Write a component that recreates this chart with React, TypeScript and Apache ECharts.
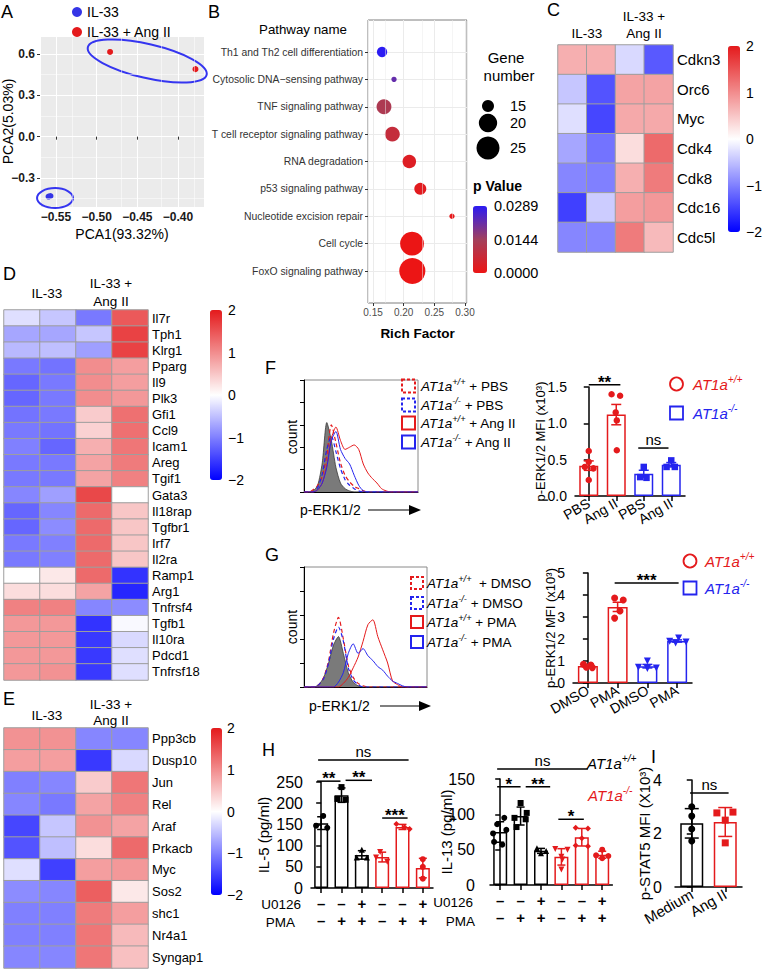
import React, { useEffect, useRef } from "react";
import * as echarts from "echarts";

const FONT = "'Liberation Sans', Arial, Helvetica, sans-serif";
const RED = "#E41A1C";
const BLUE = "#2424EE";
const HEAT_COLORS = ["#0000FF", "#FFFFFF", "#E41A1C"];

// ---------- A : PCA ----------
const pcaGroups = ["IL-33", "IL-33 + Ang II"];
const pcaIL33 = [[-0.5592, -0.4345], [-0.5568, -0.4305]];
const pcaIL33AngII = [[-0.4835, 0.615], [-0.3785, 0.49]];
const pcaEllipseCentres = [[-0.4378, 0.549], [-0.5512, -0.446]];
const pcaXExtent = [-0.5697, -0.368];
const pcaYExtent = [-0.5105, 0.7306];
const pcaMinorX = [-0.525, -0.475, -0.425, -0.375];
const pcaMinorY = [-0.45, -0.15, 0.15, 0.45];

// ---------- B : KEGG enrichment ----------
const pathways = [
  "Th1 and Th2 cell differentiation",
  "Cytosolic DNA\u2212sensing pathway",
  "TNF signaling pathway",
  "T cell receptor signaling pathway",
  "RNA degradation",
  "p53 signaling pathway",
  "Nucleotide excision repair",
  "Cell cycle",
  "FoxO signaling pathway",
];
const richFactor = [0.1647, 0.1842, 0.1679, 0.1815, 0.2092, 0.2271, 0.2788, 0.2136, 0.2141];
const geneNumber = [14, 12, 17, 17, 16, 15, 12, 26, 29];
const pValue = [0.0289, 0.022, 0.0125, 0.008, 0.003, 0.002, 0.001, 0.0001, 0.00005];
const richExtent = [0.1418, 0.3033];
const richMinor = [0.175, 0.225, 0.275];
const geneLegendValues = [15, 20, 25];
const pValueMax = 0.0289;
const pValueTicks = [0.0289, 0.0144, 0];

// ---------- C, D, E : heatmaps ----------
const sampleColumns = ["IL-33 a", "IL-33 b", "IL-33 + Ang II a", "IL-33 + Ang II b"];
const heatTicks = [2, 1, 0, -1, -2];
const cGenes = ["Cdkn3", "Orc6", "Myc", "Cdk4", "Cdk8", "Cdc16", "Cdc5l"];
const cZ = [
  [0.7, 0.7, -0.3, -1.3],
  [-0.45, -1.35, 0.8, 0.8],
  [-0.25, -1.45, 0.75, 0.75],
  [-0.7, -1.1, 0.3, 1.3],
  [-0.95, -1.0, 0.7, 1.15],
  [-1.5, -0.4, 0.85, 0.9],
  [-0.95, -0.95, 1.15, 0.6],
];
const dGenes = ["Il7r", "Tph1", "Klrg1", "Pparg", "Il9", "Plk3", "Gfi1", "Ccl9", "Icam1", "Areg", "Tgif1", "Gata3", "Il18rap", "Tgfbr1", "Irf7", "Il2ra", "Ramp1", "Arg1", "Tnfrsf4", "Tgfb1", "Il10ra", "Pdcd1", "Tnfrsf18"];
const dZ = [
  [-0.25, -0.45, -1.05, 1.45],
  [-0.7, -0.7, -0.45, 1.65],
  [-0.55, -0.5, -0.75, 1.65],
  [-1.05, -1.1, 1.0, 0.85],
  [-1.2, -1.05, 1.0, 0.85],
  [-1.2, -1.05, 1.0, 0.9],
  [-1.1, -1.05, 0.45, 1.25],
  [-1.05, -1.1, 0.4, 1.25],
  [-1.0, -1.2, 0.7, 1.2],
  [-1.05, -1.05, 0.8, 1.15],
  [-1.05, -1.05, 0.8, 1.1],
  [-0.95, -0.75, 1.6, 0.0],
  [-1.2, -0.95, 1.3, 0.5],
  [-1.2, -0.9, 1.3, 0.5],
  [-1.05, -1.0, 1.3, 0.5],
  [-1.05, -1.0, 1.3, 0.5],
  [0.0, 0.2, 1.3, -1.6],
  [0.3, 0.3, 0.8, -1.7],
  [1.1, 1.1, -0.95, -0.9],
  [0.9, 0.9, -1.6, -0.05],
  [0.9, 0.9, -1.55, -0.3],
  [0.9, 0.9, -1.55, -0.25],
  [0.9, 0.95, -1.55, -0.25],
];
const eGenes = ["Ppp3cb", "Dusp10", "Jun", "Rel", "Araf", "Prkacb", "Myc", "Sos2", "shc1", "Nr4a1", "Syngap1"];
const eZ = [
  [0.95, 0.95, -0.95, -0.95],
  [0.85, 0.85, -1.55, -0.3],
  [-1.0, -0.95, 0.45, 1.2],
  [-0.95, -1.05, 0.8, 1.1],
  [-1.45, -0.45, 0.95, 0.8],
  [-1.35, -0.5, 0.3, 1.3],
  [-0.25, -1.5, 0.85, 0.9],
  [-0.9, -0.95, 1.4, 0.2],
  [-1.0, -1.0, 1.15, 0.85],
  [-1.0, -1.0, 1.2, 0.6],
  [-0.95, -0.95, 1.2, 0.55],
];

// ---------- F, G : flow histograms ----------
const histChannel = [0, 4, 8, 12, 16, 20, 24, 28, 32, 36, 40, 44, 48, 52, 56, 60, 64, 68, 72, 76, 80, 84, 88, 92, 96, 100];
const fHistIsotype = [0, 0, 1, 6, 26, 62, 46, 22, 8, 3, 1, 0, 0, 0, 0, 0, 0, 0, 0, 0, 0, 0, 0, 0, 0, 0];
const fHistWtPbs = [0, 0, 2, 6, 14, 33, 60, 44, 26, 15, 9, 5, 3, 1, 0, 0, 0, 0, 0, 0, 0, 0, 0, 0, 0, 0];
const fHistKoPbs = [0, 0, 0, 4, 16, 38, 50, 36, 21, 11, 6, 3, 1, 0, 0, 0, 0, 0, 0, 0, 0, 0, 0, 0, 0, 0];
const fHistWtAng = [0, 0, 0, 2, 8, 24, 48, 58, 46, 38, 40, 42, 38, 25, 17, 12, 8, 3, 1, 0, 0, 0, 0, 0, 0, 0];
const fHistKoAng = [0, 0, 0, 2, 8, 22, 46, 54, 38, 30, 25, 15, 6, 1, 0, 0, 0, 0, 0, 0, 0, 0, 0, 0, 0, 0];
const gHistIsotype = [0, 0, 0, 2, 8, 20, 35, 42, 28, 12, 4, 1, 0, 0, 0, 0, 0, 0, 0, 0, 0, 0, 0, 0, 0, 0];
const gHistWtDmso = [0, 0, 0, 2, 8, 22, 45, 58, 40, 18, 8, 3, 1, 0, 0, 0, 0, 0, 0, 0, 0, 0, 0, 0, 0, 0];
const gHistKoDmso = [0, 0, 0, 2, 7, 20, 40, 50, 38, 16, 6, 2, 0, 0, 0, 0, 0, 0, 0, 0, 0, 0, 0, 0, 0, 0];
const gHistWtPma = [0, 0, 0, 0, 0, 0, 0, 0, 3, 8, 16, 25, 38, 52, 56, 42, 31, 20, 5, 2, 0, 0, 0, 0, 0, 0];
const gHistKoPma = [0, 0, 0, 0, 0, 0, 0, 4, 12, 28, 36, 28, 32, 26, 22, 17, 14, 9, 5, 3, 1, 0, 0, 0, 0, 0];

// ---------- F, G : bar charts (mean, SEM, individual mice) ----------
const fCats = ["PBS", "Ang II", "PBS", "Ang II"];
const fMeans = [0.418, 1.12, 0.307, 0.43];
const fSem = [0.065, 0.14, 0.047, 0.03];
const fDots = [
  [[0, 0.62], [0, 0.47], [-0.14, 0.4], [0.17, 0.38], [0, 0.22]],
  [[-0.17, 1.4], [0.14, 1.38], [-0.02, 1.15], [0.02, 1.04], [0.02, 0.63]],
  [[0, 0.4], [-0.13, 0.26], [0.1, 0.25]],
  [[0, 0.49], [-0.17, 0.4], [0.13, 0.4]],
];
const fBrackets = [[0, 1.15, 1.53], [1.8, 2.9, 0.66]];
const fBracketLabels = ["**", "ns"];

const gCats = ["DMSO", "PMA", "DMSO", "PMA"];
const gMeans = [0.77, 3.46, 0.765, 1.91];
const gSem = [0.035, 0.21, 0.08, 0.05];
const gDots = [
  [[-0.15, 0.85], [0.1, 0.82], [-0.05, 0.72], [0.15, 0.7]],
  [[-0.1, 3.86], [0.19, 3.77], [0.08, 3.27], [-0.1, 2.95]],
  [[0, 1.0], [-0.3, 0.72], [0, 0.66], [0.3, 0.68]],
  [[-0.25, 1.9], [0.05, 2.05], [0.3, 1.86], [-0.05, 1.82]],
];
const gBrackets = [[0.9, 3.05, 4.55]];
const gBracketLabels = ["***"];

// ---------- H : cytokines ----------
const hU0126 = ["\u2013", "\u2013", "+", "\u2013", "\u2013", "+"];
const hPMA = ["\u2013", "+", "+", "\u2013", "+", "+"];
const hIl5Means = [153, 219, 78, 73, 144, 47];
const hIl5Sd = [15, 17, 10, 11.5, 6, 23];
const hIl5Dots = [
  [[0.1, 170], [-0.25, 147], [0.3, 142]],
  [[0, 238], [-0.2, 210], [0.2, 208]],
  [[0, 90], [-0.25, 72], [0.25, 72]],
  [[-0.1, 85], [-0.3, 72], [0.25, 62]],
  [[-0.3, 151], [0.1, 143], [0.35, 139]],
  [[0, 68], [0, 50], [0, 22]],
];
const hIl5Brackets = [[-0.15, 4.3, 302], [-0.2, 0.95, 252], [1.2, 2.5, 254], [3.0, 4.25, 165]];
const hIl5BracketLabels = ["ns", "**", "**", "***"];
const hIl13Means = [75, 97.6, 48.3, 39.8, 67.6, 42.8];
const hIl13Sd = [14.5, 12.7, 3.5, 11.6, 12.4, 5];
const hIl13Dots = [
  [[0.2, 95], [-0.15, 86], [0.3, 78], [-0.35, 73], [-0.3, 61], [0.1, 57]],
  [[0, 116], [0.3, 102], [-0.3, 95], [0.25, 93], [-0.2, 82]],
  [[-0.2, 52], [0.25, 48], [0, 45]],
  [[-0.3, 51], [0.3, 50], [0, 40], [0.05, 36], [0, 22]],
  [[-0.3, 81], [0.3, 80], [0, 66], [-0.3, 56], [0.3, 55]],
  [[0, 50], [-0.3, 42], [0.3, 41], [0, 38]],
];
const hIl13Brackets = [[-0.15, 4.3, 164], [-0.15, 1.0, 139], [1.25, 2.45, 139], [2.85, 4.1, 93]];
const hIl13BracketLabels = ["ns", "*", "**", "*"];

// ---------- I : p-STAT5 ----------
const iCats = ["Medium", "Ang II"];
const iMeans = [2.38, 2.43];
const iSd = [0.55, 0.54];
const iDots = [
  [[0, 3.0], [0, 2.65], [0, 2.17], [0, 1.72]],
  [[-0.25, 2.77], [0.23, 2.8], [0, 2.5], [0, 1.65]],
];
const iBrackets = [[-0.05, 1.1, 3.51]];
const iBracketLabels = ["ns"];

function errRender(colors: string[], cap: number) {
  return (params: any, api: any) => {
    const i = params.dataIndex;
    const x = api.value(0);
    const lo = api.coord([x, api.value(1)]);
    const hi = api.coord([x, api.value(2)]);
    const st = { stroke: colors[i], lineWidth: 1.5 };
    return {
      type: "group",
      children: [
        { type: "line", shape: { x1: lo[0], y1: lo[1], x2: hi[0], y2: hi[1] }, style: st },
        { type: "line", shape: { x1: hi[0] - cap, y1: hi[1], x2: hi[0] + cap, y2: hi[1] }, style: st },
        { type: "line", shape: { x1: lo[0] - cap, y1: lo[1], x2: lo[0] + cap, y2: lo[1] }, style: st },
      ],
    };
  };
}

function bracketRender(labels: string[]) {
  return (params: any, api: any) => {
    const a = api.coord([api.value(0), api.value(2)]);
    const b = api.coord([api.value(1), api.value(2)]);
    const lab = labels[params.dataIndex];
    const star = lab.indexOf("*") >= 0;
    return {
      type: "group",
      children: [
        { type: "line", shape: { x1: a[0], y1: a[1], x2: b[0], y2: a[1] }, style: { stroke: "#000", lineWidth: 1.5 } },
        {
          type: "text",
          x: (a[0] + b[0]) / 2,
          y: a[1] + (star ? 6 : -1),
          style: {
            text: lab, fontFamily: FONT, fontSize: star ? 17 : 15, fontWeight: star ? "bold" : "normal",
            fill: "#000", align: "center", verticalAlign: "bottom", textAlign: "center", textVerticalAlign: "bottom",
          },
        },
      ],
    };
  };
}

function buildOption(): any {
  const grid: any[] = [];
  const xAxis: any[] = [];
  const yAxis: any[] = [];
  const series: any[] = [];
  const visualMap: any[] = [];
  const els: any[] = [];

  const addGrid = (g: any) => grid.push({ outerBoundsMode: "none", ...g }) - 1;
  const addX = (a: any) => xAxis.push(a) - 1;
  const addY = (a: any) => yAxis.push(a) - 1;
  const addS = (s: any) => series.push(s) - 1;

  const text = (x: number, y: number, t: string, o: any = {}) => {
    const { rotation = 0, align = "left", vAlign = "middle", ...rest } = o;
    els.push({
      type: "text", x, y, rotation, z: 100, silent: true,
      style: {
        text: t, fontFamily: FONT, fontSize: 14, fill: "#000",
        align, verticalAlign: vAlign, textAlign: align, textVerticalAlign: vAlign, ...rest,
      },
    });
  };
  const geno = (x: number, y: number, sup: string, rest: string, color: string, restColor: string, size: number) => {
    els.push({
      type: "text", x, y, z: 100, silent: true,
      style: {
        text: `{i|AT1a}{s|${sup}}{n|${rest}}`,
        fontFamily: FONT, fontSize: size, fill: color,
        align: "left", verticalAlign: "middle", textAlign: "left", textVerticalAlign: "middle",
        rich: {
          i: { fontFamily: FONT, fontSize: size, fontStyle: "italic", fill: color, color, lineHeight: size * 1.3, verticalAlign: "middle" },
          s: { fontFamily: FONT, fontSize: size * 0.68, fontStyle: "italic", fill: color, color, lineHeight: size * 0.75, verticalAlign: "top" },
          n: { fontFamily: FONT, fontSize: size, fill: restColor, color: restColor, lineHeight: size * 1.3, verticalAlign: "middle" },
        },
      },
    });
  };
  const letter = (x: number, y: number, ch: string) => text(x, y, ch, { fontSize: 18 });
  const minus = (v: string) => v.replace("-", "\u2212");

  // ================= A =================
  const gA = addGrid({ left: 40, top: 36, width: 164, height: 171, show: true, backgroundColor: "#EBEBEB", borderWidth: 0 });
  const axA = { fontFamily: FONT, fontSize: 12, fontWeight: "bold", color: "#1A1A1A" };
  const nameA = { fontFamily: FONT, fontSize: 14, color: "#000" };
  const xA = addX({
    type: "value", gridIndex: gA, min: pcaXExtent[0], max: pcaXExtent[1], splitNumber: 4,
    axisLine: { show: false }, axisTick: { show: true, length: 3, lineStyle: { color: "#333" } },
    axisLabel: { ...axA, margin: 4, showMinLabel: false, showMaxLabel: false, formatter: (v: number) => minus(v.toFixed(2)) },
    splitLine: { show: true, lineStyle: { color: "#FFFFFF", width: 1.1 } },
    name: "PCA1(93.32%)", nameLocation: "middle", nameGap: 20, nameTextStyle: nameA, nameMoveOverlap: false,
  });
  const yA = addY({
    type: "value", gridIndex: gA, min: pcaYExtent[0], max: pcaYExtent[1], splitNumber: 4,
    axisLine: { show: false }, axisTick: { show: true, length: 3, lineStyle: { color: "#333" } },
    axisLabel: { ...axA, margin: 5, showMinLabel: false, showMaxLabel: false, formatter: (v: number) => minus(v.toFixed(1)) },
    splitLine: { show: true, lineStyle: { color: "#FFFFFF", width: 1.1 } },
    name: "PCA2(5.03%)", nameLocation: "middle", nameGap: 25, nameTextStyle: nameA, nameMoveOverlap: false,
  });
  addS({
    type: "scatter", xAxisIndex: xA, yAxisIndex: yA, data: [[-0.46, 0.1]], symbolSize: 0, itemStyle: { opacity: 0 }, silent: true, z: 1,
    markLine: {
      silent: true, symbol: ["none", "none"], label: { show: false }, animation: false,
      lineStyle: { color: "#FFFFFF", width: 0.5, type: "solid" }, emphasis: { disabled: true },
      data: [...pcaMinorX.map((v) => ({ xAxis: v })), ...pcaMinorY.map((v) => ({ yAxis: v }))],
    },
  });
  const ellShapes = [{ rx: 61, ry: 17, deg: -13 }, { rx: 18, ry: 10, deg: 0 }];
  addS({
    type: "custom", xAxisIndex: xA, yAxisIndex: yA, data: pcaEllipseCentres, clip: false, silent: true, z: 4,
    renderItem: (params: any, api: any) => {
      const c = api.coord([api.value(0), api.value(1)]);
      const s = ellShapes[params.dataIndex];
      return {
        type: "ellipse", x: c[0], y: c[1], rotation: (s.deg * Math.PI) / 180,
        shape: { cx: 0, cy: 0, rx: s.rx, ry: s.ry }, style: { fill: "none", stroke: "#3535F0", lineWidth: 2 },
      };
    },
  });
  addS({ type: "scatter", name: pcaGroups[0], xAxisIndex: xA, yAxisIndex: yA, data: pcaIL33, symbolSize: 6, itemStyle: { color: "#3535E6", opacity: 1 }, z: 3, silent: true });
  addS({ type: "scatter", name: pcaGroups[1], xAxisIndex: xA, yAxisIndex: yA, data: pcaIL33AngII, symbolSize: 6, itemStyle: { color: RED, opacity: 1 }, z: 3, silent: true });
  letter(1, 12, "A");

  // ================= B =================
  const gBf = addGrid({ left: 368, top: 20, width: 99, height: 283, show: true, borderColor: "#7F7F7F", borderWidth: 1, backgroundColor: "transparent" });
  const xBf = addX({
    type: "value", gridIndex: gBf, min: richExtent[0], max: richExtent[1], splitNumber: 3,
    axisLine: { show: false }, axisTick: { show: true, length: 3, lineStyle: { color: "#333" } },
    axisLabel: { fontFamily: FONT, fontSize: 10, color: "#4D4D4D", margin: 4, showMinLabel: false, showMaxLabel: false, formatter: (v: number) => v.toFixed(2) },
    splitLine: { show: true, lineStyle: { color: "#EBEBEB", width: 1 } },
    name: "Rich Factor", nameLocation: "middle", nameGap: 23, nameMoveOverlap: false,
    nameTextStyle: { fontFamily: FONT, fontSize: 13.5, fontWeight: "bold", color: "#000" },
  });
  const yBf = addY({ type: "value", gridIndex: gBf, min: 0, max: 1, show: false });
  addS({
    type: "scatter", xAxisIndex: xBf, yAxisIndex: yBf, data: [[0.2, 0.5]], symbolSize: 0, itemStyle: { opacity: 0 }, silent: true, z: 1,
    markLine: {
      silent: true, symbol: ["none", "none"], label: { show: false }, animation: false,
      lineStyle: { color: "#EBEBEB", width: 0.5, type: "solid" }, emphasis: { disabled: true },
      data: richMinor.map((v) => ({ xAxis: v })),
    },
  });
  const gB = addGrid({ left: 368, top: 52, width: 99, height: 219 });
  const xB = addX({ type: "value", gridIndex: gB, min: richExtent[0], max: richExtent[1], show: false });
  const yB = addY({
    type: "category", gridIndex: gB, data: pathways, inverse: true, boundaryGap: false,
    axisLine: { show: false }, axisTick: { show: true, length: 3, interval: 0, lineStyle: { color: "#333" } },
    axisLabel: { interval: 0, fontFamily: FONT, fontSize: 10.4, color: "#333", margin: 5 },
    splitLine: { show: true, interval: 0, lineStyle: { color: "#EBEBEB", width: 1 } },
  });
  const bubbleSize = (g: number) => Math.sqrt(Math.max(144 + 38.5 * (g - 15), 16));
  const sB = addS({
    type: "scatter", xAxisIndex: xB, yAxisIndex: yB, silent: true, z: 3,
    data: pathways.map((_, i) => [richFactor[i], i, geneNumber[i], pValue[i]]),
    symbolSize: (v: any) => bubbleSize(v[2]), itemStyle: { opacity: 1 }, emphasis: { disabled: true },
  });
  visualMap.push({
    type: "continuous", seriesIndex: sB, dimension: 3, min: 0, max: pValueMax,
    inRange: { color: ["#EC1515", "#A3405C", "#2B1BF3"] },
    left: 473, top: 206, itemWidth: 14, itemHeight: 67, calculable: false, padding: 0, hoverLink: false,
  });
  letter(208, 12, "B");
  text(303, 29, "Pathway name", { fontSize: 13.3, align: "center" });
  text(506, 57, "Gene", { fontSize: 15, align: "center" });
  text(509, 75, "number", { fontSize: 15, align: "center" });
  const geneLegendY = [106, 123, 148];
  geneLegendValues.forEach((g, i) => {
    els.push({ type: "circle", z: 100, silent: true, shape: { cx: 488, cy: geneLegendY[i], r: bubbleSize(g) / 2 }, style: { fill: "#000" } });
    text(510, geneLegendY[i], String(g), { fontSize: 14.5 });
  });
  text(473, 186, "p Value", { fontSize: 14, fontWeight: "bold" });
  pValueTicks.forEach((v) => text(494, 206 + ((pValueMax - v) / pValueMax) * 67, v.toFixed(4), { fontSize: 14.5 }));

  // ================= heatmaps =================
  const heat = (left: number, top: number, width: number, height: number, genes: string[], z: number[][], labelSize: number, bar: any) => {
    const g = addGrid({ left, top, width, height });
    const xi = addX({ type: "category", gridIndex: g, data: sampleColumns, show: false });
    const yi = addY({
      type: "category", gridIndex: g, data: genes, inverse: true, position: "right",
      axisLine: { show: false }, axisTick: { show: false }, splitLine: { show: false },
      axisLabel: { interval: 0, fontFamily: FONT, fontSize: labelSize, color: "#000", margin: 4 },
    });
    const data: any[] = [];
    z.forEach((row, r) => row.forEach((v, c) => data.push([c, r, v])));
    const si = addS({ type: "heatmap", xAxisIndex: xi, yAxisIndex: yi, data, itemStyle: { borderColor: "#9E9E9E", borderWidth: 1 }, emphasis: { disabled: true }, silent: true });
    visualMap.push({
      type: "continuous", seriesIndex: si, dimension: 2, min: -2, max: 2, inRange: { color: HEAT_COLORS },
      left: bar.left, top: bar.top, itemWidth: bar.w, itemHeight: bar.h, calculable: false, padding: 0, hoverLink: false,
    });
    heatTicks.forEach((v) => text(bar.labelX, bar.top + ((2 - v) / 4) * bar.h, v < 0 ? "\u2212" + Math.abs(v) : String(v), { fontSize: 14 }));
  };
  heat(558, 45, 115, 207, cGenes, cZ, 15, { left: 728, top: 46, w: 12, h: 186, labelX: 746 });
  letter(547, 10, "C");
  text(587, 33, "IL-33", { fontSize: 13.5, align: "center" });
  text(644, 16, "IL-33 +", { fontSize: 13.5, align: "center" });
  text(644, 33, "Ang II", { fontSize: 13.5, align: "center" });

  heat(4, 310, 144, 370, dGenes, dZ, 13, { left: 210, top: 310, w: 12, h: 170, labelX: 228 });
  letter(3, 274, "D");
  text(47, 293, "IL-33", { fontSize: 13.5, align: "center" });
  text(111, 283, "IL-33 +", { fontSize: 13.5, align: "center" });
  text(111, 301, "Ang II", { fontSize: 13.5, align: "center" });

  heat(4, 728, 144, 240, eGenes, eZ, 13, { left: 211, top: 728, w: 11, h: 167, labelX: 227 });
  letter(3, 699, "E");
  text(47, 715, "IL-33", { fontSize: 13.5, align: "center" });
  text(111, 704, "IL-33 +", { fontSize: 13.5, align: "center" });
  text(111, 720, "Ang II", { fontSize: 13.5, align: "center" });

  // ================= histograms =================
  const hist = (left: number, top: number, width: number, height: number, sets: any[]) => {
    const g = addGrid({ left, top, width, height, show: true, borderColor: "#8A8A8A", borderWidth: 1 });
    const xi = addX({ type: "value", gridIndex: g, min: 0, max: 100, axisLine: { show: true, lineStyle: { color: "#000", width: 1 } }, axisTick: { show: false }, axisLabel: { show: false }, splitLine: { show: false } });
    const yi = addY({ type: "value", gridIndex: g, min: 0, max: 100, interval: 20, axisLine: { show: true, lineStyle: { color: "#000", width: 1 } }, axisTick: { show: true, length: 4, lineStyle: { color: "#000" } }, axisLabel: { show: false }, splitLine: { show: false } });
    sets.forEach((s) =>
      addS({
        type: "line", xAxisIndex: xi, yAxisIndex: yi, data: histChannel.map((c, k) => [c, s.values[k]]),
        showSymbol: false, symbol: "none", smooth: 0.25, silent: true, z: s.z,
        lineStyle: { color: s.color, width: s.width, type: s.dash ? [4, 3] : "solid" },
        areaStyle: s.fill ? { color: s.fill, opacity: 1 } : undefined,
      })
    );
  };
  hist(304, 380, 114, 112, [
    { values: fHistIsotype, color: "#3A3A3A", width: 0.8, fill: "#7A7A7A", z: 2 },
    { values: fHistWtPbs, color: RED, width: 1.2, dash: true, z: 3 },
    { values: fHistKoPbs, color: BLUE, width: 1.2, dash: true, z: 3 },
    { values: fHistWtAng, color: RED, width: 1, z: 4 },
    { values: fHistKoAng, color: BLUE, width: 1, z: 4 },
  ]);
  hist(304, 567, 123, 120, [
    { values: gHistIsotype, color: "#3A3A3A", width: 0.8, fill: "#7A7A7A", z: 2 },
    { values: gHistWtDmso, color: RED, width: 1.2, dash: true, z: 3 },
    { values: gHistKoDmso, color: BLUE, width: 1.2, dash: true, z: 3 },
    { values: gHistWtPma, color: RED, width: 1, z: 4 },
    { values: gHistKoPma, color: BLUE, width: 1, z: 4 },
  ]);
  const legendBox = (x: number, y: number, s: number, color: string, dash: boolean) =>
    els.push({
      type: "rect", z: 100, silent: true, shape: { x, y: y - s / 2, width: s, height: s },
      style: dash ? { fill: "none", stroke: color, lineWidth: 2, lineDash: [3, 2] } : { fill: "none", stroke: color, lineWidth: 2 },
    });
  const fRows = [
    { y: 386, sup: "+/+", rest: " + PBS", color: RED, dash: true },
    { y: 405, sup: "-/-", rest: " + PBS", color: BLUE, dash: true },
    { y: 423, sup: "+/+", rest: " + Ang II", color: RED, dash: false },
    { y: 442, sup: "-/-", rest: " + Ang II", color: BLUE, dash: false },
  ];
  fRows.forEach((r) => {
    legendBox(402, r.y, 13, r.color, r.dash);
    geno(421, r.y, r.sup, r.rest, "#000", "#000", 13.5);
  });
  const gRows = [
    { y: 583, sup: "+/+", rest: "  + DMSO", color: RED, dash: true },
    { y: 603, sup: "-/-", rest: " + DMSO", color: BLUE, dash: true },
    { y: 622, sup: "+/+", rest: " + PMA", color: RED, dash: false },
    { y: 642, sup: "-/-", rest: " + PMA", color: BLUE, dash: false },
  ];
  gRows.forEach((r) => {
    legendBox(411, r.y, 12, r.color, r.dash);
    geno(427, r.y, r.sup, r.rest, "#000", "#000", 13.5);
  });
  text(292, 437, "count", { rotation: Math.PI / 2, align: "center", fontSize: 14 });
  text(292, 627, "count", { rotation: Math.PI / 2, align: "center", fontSize: 14 });
  const arrow = (tx: number, y: number, x1: number, x2: number) => {
    text(tx, y, "p-ERK1/2", { fontSize: 14 });
    els.push({ type: "line", z: 100, silent: true, shape: { x1, y1: y, x2: x2 - 10, y2: y }, style: { stroke: "#000", lineWidth: 1.2 } });
    els.push({ type: "polygon", z: 100, silent: true, shape: { points: [[x2 - 12, y - 5], [x2, y], [x2 - 12, y + 5]] }, style: { fill: "#000" } });
  };
  arrow(300, 510, 368, 421);
  arrow(309, 706, 380, 431);
  letter(265, 368, "F");
  letter(265, 555, "G");

  // ================= bar panels =================
  const barPanel = (cfg: any) => {
    const g = addGrid({ left: cfg.left, top: cfg.top, width: cfg.width, height: cfg.height });
    const xc = addX({
      type: "category", gridIndex: g, data: cfg.cats.map((_: any, i: number) => "c" + i),
      axisLine: { show: true, lineStyle: { color: "#000", width: 1.5 } },
      axisTick: { show: true, alignWithLabel: true, interval: 0, length: 5, lineStyle: { color: "#000", width: 1.5 } },
      axisLabel: {
        interval: 0, formatter: (_v: any, i: number) => cfg.cats[i], fontFamily: FONT, fontSize: cfg.xFont, color: "#000",
        rotate: cfg.rotate || 0, margin: cfg.xMargin, lineHeight: cfg.lineHeight, fontWeight: cfg.xBold ? "bold" : "normal",
      },
      splitLine: { show: false },
    });
    const xv = addX({ type: "value", gridIndex: g, min: -0.5, max: cfg.cats.length - 0.5, show: false });
    const yi = addY({
      type: "value", gridIndex: g, min: 0, max: cfg.yMax, interval: cfg.yInterval, offset: cfg.yOffset || 0,
      axisLine: { show: true, lineStyle: { color: "#000", width: 1.5 } },
      axisTick: { show: true, length: 5, lineStyle: { color: "#000", width: 1.5 } },
      axisLabel: { fontFamily: FONT, fontSize: cfg.yFont, color: "#000", margin: cfg.yMargin, formatter: cfg.yFmt },
      splitLine: { show: false },
      name: cfg.yName, nameLocation: "middle", nameGap: cfg.nameGap, nameMoveOverlap: false,
      nameTextStyle: { fontFamily: FONT, fontSize: cfg.nameFont, color: "#000" },
    });
    addS({
      type: "bar", xAxisIndex: xc, yAxisIndex: yi, barWidth: cfg.barWidth, silent: true, z: 2,
      data: cfg.means.map((m: number, i: number) => ({ value: m, itemStyle: { color: "rgba(255,255,255,0)", borderColor: cfg.colors[i], borderWidth: 1.5 } })),
    });
    addS({
      type: "custom", xAxisIndex: xv, yAxisIndex: yi, clip: false, silent: true, z: 3,
      data: cfg.means.map((m: number, i: number) => [i, m - cfg.err[i], m + cfg.err[i]]),
      renderItem: errRender(cfg.colors, cfg.cap),
    });
    cfg.dots.forEach((grp: number[][], i: number) =>
      addS({
        type: "scatter", xAxisIndex: xv, yAxisIndex: yi, silent: true, z: 4,
        data: grp.map((d) => [i + d[0], d[1]]), symbol: cfg.symbols[i],
        symbolRotate: cfg.rotations ? cfg.rotations[i] : 0, symbolSize: cfg.dotSize,
        itemStyle: { color: cfg.colors[i], opacity: 1 },
      })
    );
    addS({
      type: "custom", xAxisIndex: xv, yAxisIndex: yi, clip: false, silent: true, z: 5,
      data: cfg.brackets, renderItem: bracketRender(cfg.bracketLabels),
    });
  };

  barPanel({
    left: 575, top: 387, width: 110, height: 109, cats: fCats, xFont: 14, rotate: 30, xMargin: 6,
    yMax: 1.5, yInterval: 0.5, yFont: 14, yMargin: 8, yFmt: (v: number) => v.toFixed(1),
    yName: "p-ERK1/2 MFI (x10\u00B3)", nameGap: 28, nameFont: 13, barWidth: 19,
    means: fMeans, err: fSem, colors: [RED, RED, BLUE, BLUE], cap: 5,
    dots: fDots, symbols: ["circle", "circle", "rect", "rect"], dotSize: 6.5,
    brackets: fBrackets, bracketLabels: fBracketLabels,
  });
  barPanel({
    left: 573, top: 573, width: 119, height: 110, cats: gCats, xFont: 14, rotate: 30, xMargin: 6,
    yMax: 5, yInterval: 1, yFont: 14, yMargin: 8, yFmt: (v: number) => String(v),
    yName: "p-ERK1/2 MFI (x10\u00B3)", nameGap: 16, nameFont: 13, barWidth: 20,
    means: gMeans, err: gSem, colors: [RED, RED, BLUE, BLUE], cap: 5,
    dots: gDots, symbols: ["circle", "circle", "triangle", "triangle"], rotations: [0, 0, 180, 180], dotSize: 7,
    brackets: gBrackets, bracketLabels: gBracketLabels,
  });
  // F / G genotype legends
  const genoLegend = (cx: number, yCirc: number, yRect: number, tx: number) => {
    els.push({ type: "circle", z: 100, silent: true, shape: { cx, cy: yCirc, r: 6.5 }, style: { fill: "none", stroke: RED, lineWidth: 1.8 } });
    geno(tx, yCirc, "+/+", "", RED, RED, 15);
    els.push({ type: "rect", z: 100, silent: true, shape: { x: cx - 6.5, y: yRect - 6.5, width: 13, height: 13 }, style: { fill: "none", stroke: BLUE, lineWidth: 1.8 } });
    geno(tx, yRect, "-/-", "", BLUE, BLUE, 15);
  };
  genoLegend(676.5, 384, 413, 693);
  genoLegend(690, 561, 588, 705);

  const hCats = hU0126.map((u, i) => u + "\n" + hPMA[i]);
  const hColors = ["#000", "#000", "#000", RED, RED, RED];
  const hSymbols = ["circle", "rect", "triangle", "triangle", "diamond", "circle"];
  const hRot = [0, 0, 0, 180, 0, 0];
  barPanel({
    left: 311, top: 782, width: 122, height: 106, cats: hCats, xFont: 15, xBold: true, lineHeight: 17, xMargin: 7,
    yMax: 250, yInterval: 50, yFont: 16, yMargin: 8, yFmt: (v: number) => String(v),
    yName: "IL-5 (pg/ml)", nameGap: 40, nameFont: 15, barWidth: 14,
    means: hIl5Means, err: hIl5Sd, colors: hColors, cap: 4,
    dots: hIl5Dots, symbols: hSymbols, rotations: hRot, dotSize: 6,
    brackets: hIl5Brackets, bracketLabels: hIl5BracketLabels,
  });
  barPanel({
    left: 490, top: 779, width: 122.4, height: 106, yOffset: 7, cats: hCats, xFont: 15, xBold: true, lineHeight: 17, xMargin: 7,
    yMax: 150, yInterval: 50, yFont: 16, yMargin: 8, yFmt: (v: number) => String(v),
    yName: "IL-13 (pg/ml)", nameGap: 29, nameFont: 15, barWidth: 14,
    means: hIl13Means, err: hIl13Sd, colors: hColors, cap: 4,
    dots: hIl13Dots, symbols: hSymbols, rotations: hRot, dotSize: 6,
    brackets: hIl13Brackets, bracketLabels: hIl13BracketLabels,
  });
  letter(262, 750, "H");
  text(301, 904, "U0126", { fontSize: 13.5, align: "right" });
  text(295, 922, "PMA", { fontSize: 13.5, align: "right" });
  text(473, 902, "U0126", { fontSize: 13.5, align: "right" });
  text(475, 921, "PMA", { fontSize: 13.5, align: "right" });
  geno(587, 763, "+/+", "", "#000", "#000", 15);
  geno(588, 795, "-/-", "", RED, RED, 15);

  barPanel({
    left: 675, top: 780, width: 67, height: 107, yOffset: 7, cats: iCats, xFont: 15, rotate: 30, xMargin: 6,
    yMax: 4, yInterval: 2, yFont: 16, yMargin: 6, yFmt: (v: number) => String(v),
    yName: "p-STAT5 MFI (X10\u00B3)", nameGap: 16, nameFont: 15, barWidth: 23,
    means: iMeans, err: iSd, colors: ["#000", RED], cap: 7,
    dots: iDots, symbols: ["circle", "rect"], dotSize: 7,
    brackets: iBrackets, bracketLabels: iBracketLabels,
  });
  letter(651, 757, "I");

  return {
    animation: false,
    backgroundColor: "#FFFFFF",
    textStyle: { fontFamily: FONT },
    legend: [
      {
        data: pcaGroups.map((n) => ({ name: n, icon: "circle" })), orient: "vertical", left: 72, top: 5,
        itemWidth: 10, itemHeight: 10, itemGap: 6, padding: 0, selectedMode: false,
        textStyle: { fontFamily: FONT, fontSize: 14, color: "#000", lineHeight: 14 },
      },
    ],
    grid, xAxis, yAxis, series, visualMap,
    graphic: { elements: els },
  };
}

export default function App() {
  const ref = useRef<HTMLDivElement>(null);
  useEffect(() => {
    if (!ref.current) return;
    const chart = echarts.init(ref.current, undefined, { renderer: "svg" });
    chart.setOption(buildOption());
    return () => chart.dispose();
  }, []);
  return <div ref={ref} style={{ position: "absolute", left: 0, top: 0, width: 763, height: 970, background: "#fff" }} />;
}
